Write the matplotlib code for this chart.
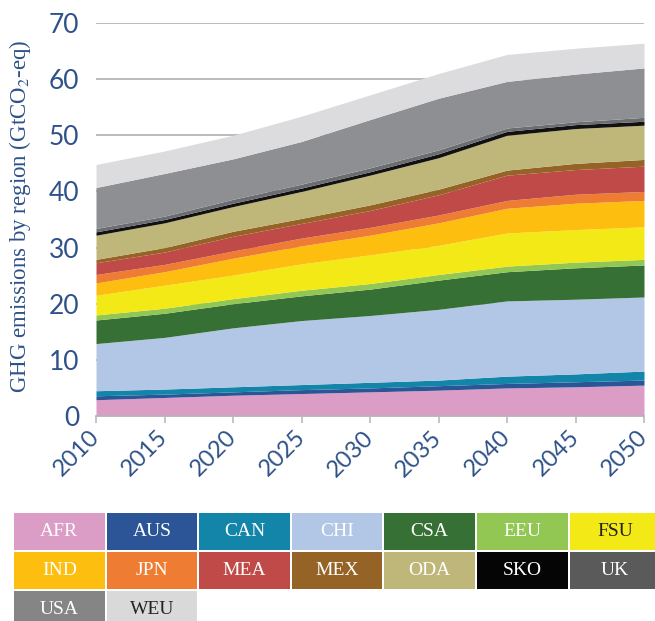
import matplotlib
matplotlib.use("Agg")
import matplotlib.pyplot as plt
from matplotlib.patches import Rectangle
import numpy as np

years = [2010, 2015, 2020, 2025, 2030, 2035, 2040, 2045, 2050]
regions = ["AFR", "AUS", "CAN", "CHI", "CSA", "EEU", "FSU", "IND", "JPN",
           "MEA", "MEX", "ODA", "SKO", "UK", "USA", "WEU"]
# cumulative tops of each stacked layer (GtCO2-eq)
tops = {
    "AFR": [2.9, 3.3, 3.7, 4.0, 4.3, 4.6, 5.0, 5.2, 5.5],
    "AUS": [3.6, 3.9, 4.3, 4.7, 5.0, 5.4, 5.8, 6.1, 6.4],
    "CAN": [4.5, 4.8, 5.2, 5.6, 6.0, 6.4, 7.1, 7.5, 8.0],
    "CHI": [12.9, 14.0, 15.7, 17.0, 17.9, 19.0, 20.5, 20.8, 21.2],
    "CSA": [17.1, 18.3, 20.0, 21.4, 22.6, 24.2, 25.7, 26.4, 26.9],
    "EEU": [18.0, 19.2, 20.9, 22.4, 23.6, 25.2, 26.7, 27.4, 27.9],
    "FSU": [21.5, 23.3, 25.1, 27.1, 28.7, 30.4, 32.6, 33.2, 33.7],
    "IND": [23.7, 25.7, 28.1, 30.3, 32.2, 34.4, 37.0, 37.9, 38.4],
    "JPN": [25.2, 27.0, 29.4, 31.7, 33.6, 35.8, 38.4, 39.5, 40.0],
    "MEA": [27.3, 29.2, 32.0, 34.3, 36.6, 39.4, 42.9, 43.9, 44.5],
    "MEX": [27.9, 30.0, 32.9, 35.2, 37.6, 40.4, 43.8, 45.0, 45.7],
    "ODA": [32.2, 34.4, 37.3, 40.0, 42.9, 46.0, 50.0, 51.2, 51.8],
    "SKO": [32.8, 35.0, 37.9, 40.6, 43.5, 46.7, 50.7, 51.9, 52.5],
    "UK":  [33.4, 35.6, 38.6, 41.3, 44.2, 47.4, 51.3, 52.4, 53.2],
    "USA": [40.7, 43.2, 45.8, 48.9, 52.8, 56.6, 59.6, 60.9, 62.0],
    "WEU": [44.8, 47.2, 50.0, 53.4, 57.2, 61.0, 64.4, 65.5, 66.4],
}
colors = {
    "AFR": "#DB9DC6", "AUS": "#2B5597", "CAN": "#1285A8", "CHI": "#B2C6E5",
    "CSA": "#367035", "EEU": "#92C754", "FSU": "#F2E917", "IND": "#FDBE10",
    "JPN": "#EE7D33", "MEA": "#C04A48", "MEX": "#966326", "ODA": "#BFB67A",
    "SKO": "#111111", "UK": "#6C6D71", "USA": "#8E8F93", "WEU": "#DCDCDE",
}
legend_colors = dict(colors, UK="#5A5A5A", USA="#858585", WEU="#D9D9D9", SKO="#050505")
dark_text = {"FSU", "WEU"}
yticks = [0, 10, 20, 30, 40, 50, 60, 70]
xticks = years

blue = "#2E5289"
fig = plt.figure(figsize=(6.55, 6.21), dpi=100)
ax = fig.add_axes([96/655, 1-416/621, (644-96)/655, (416-23)/621])

prev = np.zeros(len(years))
for r in regions:
    top = np.array(tops[r])
    ax.fill_between(years, prev, top, color=colors[r], linewidth=0, zorder=2)
    prev = top

ax.set_xlim(2010, 2050)
ax.set_ylim(0, 70)
ax.set_yticks(yticks)
ax.set_xticks(xticks)
ax.grid(axis="y", color="#A8A8A8", linewidth=1.1, zorder=0)
ax.set_axisbelow(True)
for s in ["left", "right", "top"]:
    ax.spines[s].set_visible(False)
ax.spines["bottom"].set_color("#B5B5B5")
ax.spines["bottom"].set_linewidth(1.2)
ax.spines["bottom"].set_zorder(3)
ax.tick_params(axis="y", length=0, pad=12, labelsize=19, labelcolor=blue)
ax.tick_params(axis="x", length=5, width=1.1, color="#B5B5B5", pad=8,
               labelsize=17, labelcolor=blue)
for lab in ax.get_yticklabels():
    lab.set_fontfamily("Lato")
for lab in ax.get_xticklabels():
    lab.set_fontfamily("Lato")
    lab.set_rotation(45)
    lab.set_ha("right")
    lab.set_va("center")
    lab.set_rotation_mode("anchor")

plt.rcParams["mathtext.fontset"] = "stix"
fig.text(20/655, 1-216/621, "GHG emissions by region (GtCO$_2$-eq)", rotation=90,
         ha="center", va="center", fontsize=16.5, color=blue,
         fontfamily="Liberation Serif")

# legend grid
x0, y0 = 14, 513
bw, bh = 90.5, 37
px, py = 92.6, 39
for i, r in enumerate(regions):
    row, col = divmod(i, 7)
    x = x0 + col * px
    y = y0 + row * py
    fig.patches.append(Rectangle((x/655, 1-(y+bh)/621), bw/655, bh/621,
                                 transform=fig.transFigure,
                                 facecolor=legend_colors[r], edgecolor="none"))
    fig.text((x+bw/2)/655, 1-(y+bh/2)/621, r, ha="center", va="center",
             fontsize=14, fontfamily="Liberation Serif",
             color="#222222" if r in dark_text else "white")

fig.savefig("out.png", dpi=100)
